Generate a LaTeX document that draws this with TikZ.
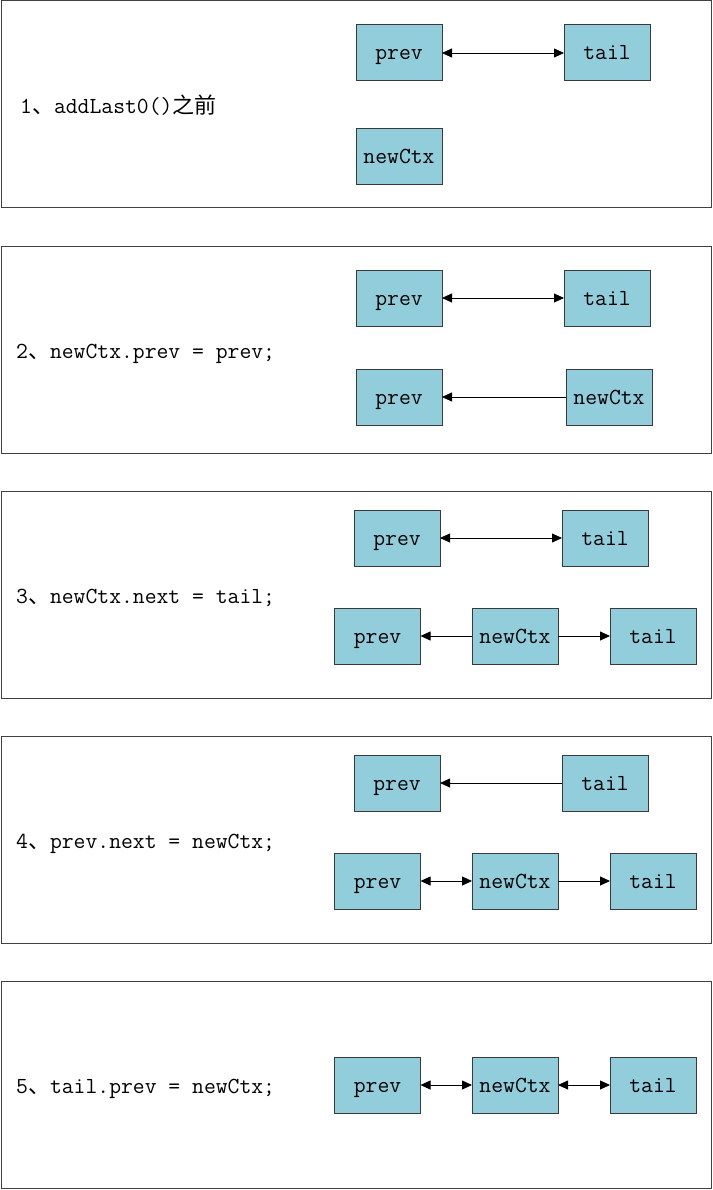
\documentclass[tikz,border=0pt]{standalone}
\usepackage{fontspec}
\newfontfamily\cjk{Noto Sans CJK SC}
\usetikzlibrary{arrows.meta}
\definecolor{boxfill}{HTML}{92CDDC}
\definecolor{boxline}{HTML}{3A3A3A}
\definecolor{panelline}{HTML}{404040}
\begin{document}
\begin{tikzpicture}[x=1pt,y=-1pt,
  panel/.style={draw=panelline,line width=1pt},
  cell/.style={draw=boxline,fill=boxfill,line width=1pt,minimum width=86pt,minimum height=56pt,inner sep=0pt,outer sep=0pt,text height=17pt,text depth=3pt,font=\fontsize{23}{24}\selectfont\ttfamily},
  lbl/.style={anchor=west,inner sep=0pt,text height=19pt,text depth=3pt,font=\fontsize{23}{24}\selectfont\ttfamily},
  link/.style={line width=0.8pt,draw=black,-{Triangle[length=10pt,width=9pt]}},
  dlink/.style={line width=0.8pt,draw=black,{Triangle[length=10pt,width=9pt]}-{Triangle[length=10pt,width=9pt]}}]
\useasboundingbox (0,0) rectangle (712,1190);
% panel 1
\draw[panel] (1,1) rectangle (711,208);
\node[lbl] (l1) at (20,106) {1{\cjk\fontsize{22}{24}\selectfont 、}addLast0(){\cjk\fontsize{22}{24}\selectfont 之前}};
\node[cell] (a1) at (399,53) {prev};
\node[cell] (a2) at (607,53) {tail};
\node[cell] (a3) at (399,157) {newCtx};
\draw[dlink] (a1) -- (a2);
% panel 2
\draw[panel] (1,246) rectangle (711,453);
\node[lbl] (l2) at (16,350) {2{\cjk\fontsize{22}{24}\selectfont 、}newCtx.prev = prev;};
\node[cell] (b1) at (399,298) {prev};
\node[cell] (b2) at (607,298) {tail};
\node[cell] (b3) at (399,397) {prev};
\node[cell] (b4) at (609,397) {newCtx};
\draw[dlink] (b1) -- (b2);
\draw[link] (b4) -- (b3);
% panel 3
\draw[panel] (1,491) rectangle (711,698);
\node[lbl] (l3) at (16,595) {3{\cjk\fontsize{22}{24}\selectfont 、}newCtx.next = tail;};
\node[cell] (c1) at (397,538) {prev};
\node[cell] (c2) at (605,538) {tail};
\node[cell] (c3) at (377.5,636) {prev};
\node[cell] (c4) at (515,636) {newCtx};
\node[cell] (c5) at (653,636) {tail};
\draw[dlink] (c1) -- (c2);
\draw[link] (c4) -- (c3);
\draw[link] (c4) -- (c5);
% panel 4
\draw[panel] (1,736) rectangle (711,943);
\node[lbl] (l4) at (16,840) {4{\cjk\fontsize{22}{24}\selectfont 、}prev.next = newCtx;};
\node[cell] (d1) at (397,783) {prev};
\node[cell] (d2) at (605,783) {tail};
\node[cell] (d3) at (377.5,881) {prev};
\node[cell] (d4) at (515,881) {newCtx};
\node[cell] (d5) at (653,881) {tail};
\draw[link] (d2) -- (d1);
\draw[dlink] (d3) -- (d4);
\draw[link] (d4) -- (d5);
% panel 5
\draw[panel] (1,981) rectangle (711,1188);
\node[lbl] (l5) at (16,1085) {5{\cjk\fontsize{22}{24}\selectfont 、}tail.prev = newCtx;};
\node[cell] (e1) at (377.5,1085) {prev};
\node[cell] (e2) at (515,1085) {newCtx};
\node[cell] (e3) at (653,1085) {tail};
\draw[dlink] (e1) -- (e2);
\draw[dlink] (e2) -- (e3);
\end{tikzpicture}
\end{document}
